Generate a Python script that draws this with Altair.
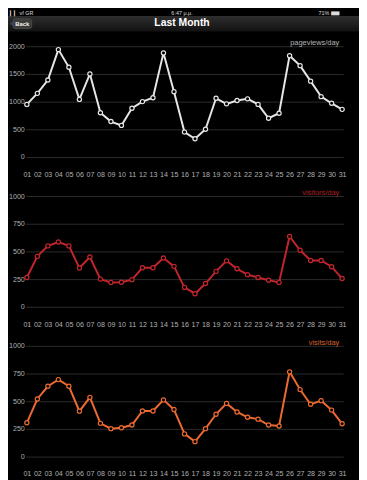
import altair as alt
import pandas as pd

# ---- data ----
days = [f"{i:02d}" for i in range(1, 32)]
pageviews = [950, 1150, 1390, 1940, 1620, 1040, 1500, 800, 640, 570, 880, 1000, 1070, 1880, 1180,
             450, 330, 500, 1060, 960, 1020, 1050, 950, 700, 790, 1830, 1650, 1370, 1090, 970, 860]
visitors = [265, 455, 550, 585, 550, 350, 450, 250, 220, 222, 245, 352, 352, 440, 365,
            175, 118, 210, 320, 415, 343, 290, 265, 240, 220, 635, 510, 418, 418, 362, 255]
visits = [305, 520, 635, 695, 635, 410, 535, 300, 252, 260, 285, 412, 412, 512, 425,
          205, 135, 252, 382, 480, 403, 355, 338, 285, 276, 765, 605, 472, 505, 420, 296]

series_names = ["pageviews/day", "visitors/day", "visits/day"]
line_colors = ["#e6e6e6", "#c0262c", "#ec6a30"]
name_colors = ["#b4b4b4", "#a82226", "#d9602b"]
y_max = [2000, 1000, 1000]
y_ticks = [[0, 500, 1000, 1500, 2000], [0, 250, 500, 750, 1000], [0, 250, 500, 750, 1000]]

title_text = "Last Month"
back_text = "Back"
status_left = "\u258e\u258e vf GR"
status_mid = "6:47 \u03bc.\u03bc."
status_right = "71%"

FONT = "Liberation Sans"
W = 321
H = 112
LBL = "#b0b0b0"
TOP = -36  # header sits above the first panel


def header_layers():
    one = pd.DataFrame({"k": [0]})
    nav_fill = {"gradient": "linear", "x1": 0, "y1": 0, "x2": 0, "y2": 1,
                "stops": [{"offset": 0, "color": "#2e2e2e"}, {"offset": 1, "color": "#121212"}]}
    navbar = alt.Chart(one).mark_rect(fill=nav_fill).encode(
        x=alt.value(-18), x2=alt.value(W + 16), y=alt.value(TOP + 5.5), y2=alt.value(TOP + 21))
    back_arrow = alt.Chart(one).mark_point(shape="triangle-left", filled=True, fill="#3c3c3c",
                                           stroke="#555555", strokeWidth=0.6, size=40,
                                           opacity=1).encode(
        x=alt.value(-13), y=alt.value(TOP + 13.2))
    back_btn = alt.Chart(one).mark_rect(fill="#3c3c3c", stroke="#555555", strokeWidth=0.6,
                                        cornerRadius=2.5).encode(
        x=alt.value(-13), x2=alt.value(6), y=alt.value(TOP + 8.2), y2=alt.value(TOP + 18.2))
    back_lbl = alt.Chart(pd.DataFrame({"t": [back_text]})).mark_text(
        fontSize=6, fontWeight="bold", font=FONT, color="#f0f0f0", baseline="middle"
    ).encode(text="t:N", x=alt.value(-3.5), y=alt.value(TOP + 13.3))
    title = alt.Chart(pd.DataFrame({"t": [title_text]})).mark_text(
        fontSize=10.5, fontWeight="bold", font=FONT, color="#ffffff", baseline="middle"
    ).encode(text="t:N", x=alt.value(158), y=alt.value(TOP + 12.8))
    st_l = alt.Chart(pd.DataFrame({"t": [status_left]})).mark_text(
        fontSize=5.5, font=FONT, color="#dddddd", baseline="top", align="left"
    ).encode(text="t:N", x=alt.value(-16), y=alt.value(TOP))
    st_m = alt.Chart(pd.DataFrame({"t": [status_mid]})).mark_text(
        fontSize=5.5, font=FONT, color="#dddddd", baseline="top", align="center"
    ).encode(text="t:N", x=alt.value(158), y=alt.value(TOP))
    st_r = alt.Chart(pd.DataFrame({"t": [status_right]})).mark_text(
        fontSize=5.5, font=FONT, color="#dddddd", baseline="top", align="right"
    ).encode(text="t:N", x=alt.value(W - 14), y=alt.value(TOP))
    battery = alt.Chart(one).mark_rect(fill="#dddddd", stroke="#dddddd", strokeWidth=0.5).encode(
        x=alt.value(W - 12), x2=alt.value(W - 4), y=alt.value(TOP + 1), y2=alt.value(TOP + 4.5))
    return [navbar, back_arrow, back_btn, back_lbl, title, st_l, st_m, st_r, battery]


def panel(values, name, lc, tc, ymax, ticks, extra=()):
    df = pd.DataFrame({"day": days, "value": values})
    x = alt.X("day:O", sort=None,
              scale=alt.Scale(type="point", padding=0.1),
              axis=alt.Axis(title=None, labelAngle=0, labelColor=LBL, labelFontSize=7.2,
                            labelFont=FONT, labelPadding=13.5, ticks=False, tickSize=0,
                            domain=False, grid=False, labelOverlap=False))
    y = alt.Y("value:Q",
              scale=alt.Scale(domain=[0, ymax], nice=False, zero=True),
              axis=alt.Axis(title=None, values=ticks, format="d", labelColor=LBL,
                            labelFontSize=7.2, labelFont=FONT, labelPadding=1.5, ticks=False,
                            tickSize=0, domain=False, grid=True, gridColor="#2c2c2c",
                            gridWidth=1))
    base = alt.Chart(df).encode(x=x, y=y)
    line = base.mark_line(color=lc, strokeWidth=2)
    pts = base.mark_point(filled=True, fill="#000000", stroke=lc, strokeWidth=1.2,
                          size=18, opacity=1)
    lab = alt.Chart(pd.DataFrame({"t": [name]})).mark_text(
        align="right", baseline="alphabetic", fontSize=7.5, font=FONT, color=tc
    ).encode(text="t:N", x=alt.value(W - 4), y=alt.value(-1))
    return alt.layer(*extra, line, pts, lab).properties(width=W, height=H)


p1 = panel(pageviews, series_names[0], line_colors[0], name_colors[0], y_max[0], y_ticks[0],
           extra=header_layers())
p2 = panel(visitors, series_names[1], line_colors[1], name_colors[1], y_max[1], y_ticks[1])
p3 = panel(visits, series_names[2], line_colors[2], name_colors[2], y_max[2], y_ticks[2])

chart = alt.vconcat(p1, p2, p3, spacing=11.5).properties(
    padding=0, background="#000000"
).configure_view(strokeWidth=0)

chart.save("out.html", embed_options={"renderer": "svg", "actions": False})
